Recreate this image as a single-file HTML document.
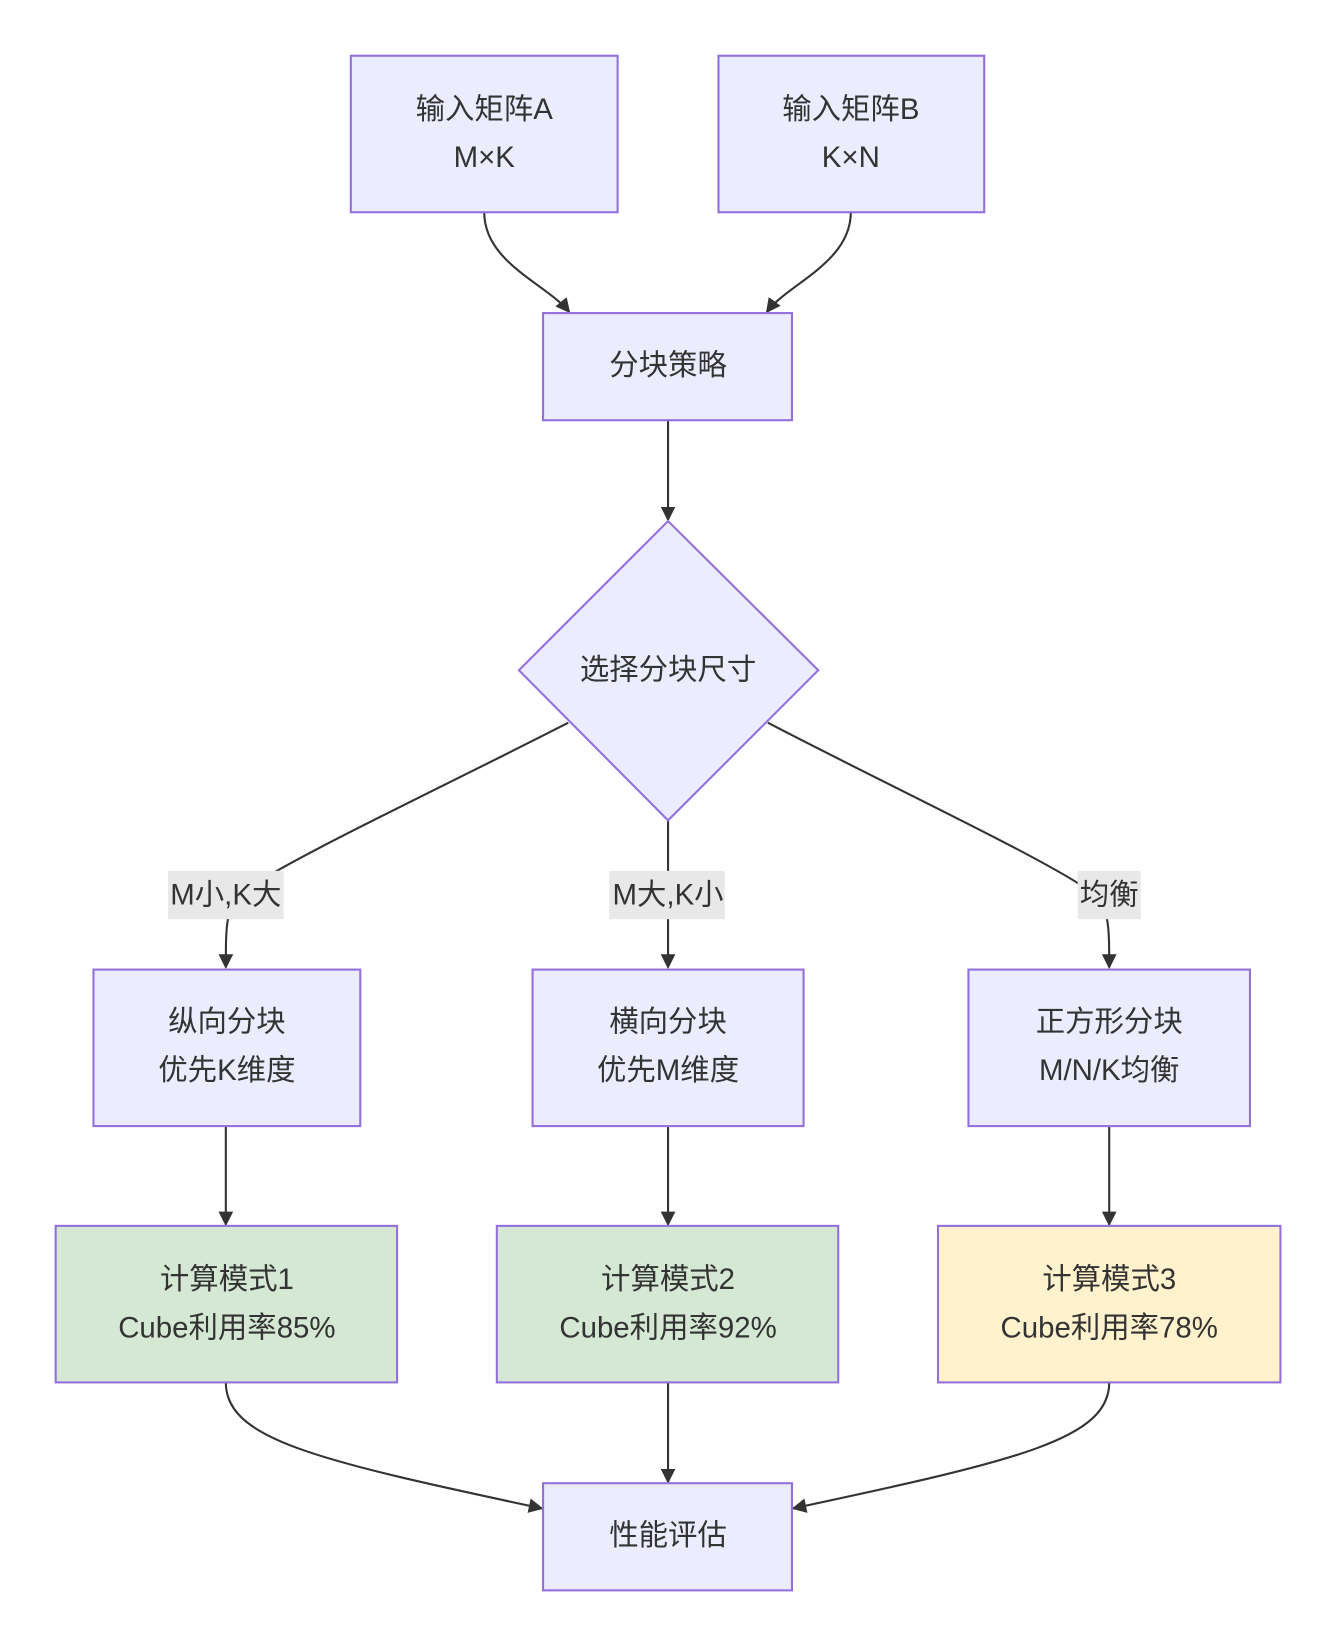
<!DOCTYPE html>
<html><head><meta charset="utf-8"><style>
html,body{margin:0;padding:0;background:#fff}
svg{display:block}
text{font-family:"Liberation Sans","Noto Sans CJK SC",sans-serif;font-size:28px;fill:#333;text-anchor:middle;dominant-baseline:central}
.n{stroke:#9370DB;stroke-width:2}
.e{fill:none;stroke:#333;stroke-width:2}
</style></head><body>
<svg width="1334" height="1644" viewBox="0 0 1270 1565" xmlns="http://www.w3.org/2000/svg">
<defs><marker id="a" viewBox="0 0 10 10" refX="9" refY="5" markerWidth="14" markerHeight="14" markerUnits="userSpaceOnUse" orient="auto"><path d="M0,0L10,5L0,10z" fill="#333"/></marker></defs>
<g class="e" marker-end="url(#a)">
<path d="M461,202 C461,250 520,270 542,297"/>
<path d="M810,202 C810,250 750,270 730,297"/>
<path d="M636,400 L636,495"/>
<path d="M541,688 C420,750 270,820 230,850 C215,865 215,880 215,921"/>
<path d="M636,781 L636,921"/>
<path d="M731,688 C850,750 1000,820 1040,850 C1056,865 1056,880 1056,921"/>
<path d="M215,1072 L215,1166"/>
<path d="M636,1072 L636,1166"/>
<path d="M1056,1072 L1056,1166"/>
<path d="M215,1316 C215,1370 300,1390 516,1436"/>
<path d="M636,1316 L636,1411"/>
<path d="M1056,1316 C1056,1370 970,1390 755,1436"/>
</g>
<rect x="160" y="829" width="110" height="46" fill="#e8e8e8"/>
<rect x="580" y="829" width="110" height="46" fill="#e8e8e8"/>
<rect x="1026" y="829" width="60" height="46" fill="#e8e8e8"/>
<text x="215" y="852">M小,K大</text>
<text x="636" y="852">M大,K小</text>
<text x="1056" y="852">均衡</text>
<g class="n" fill="#ECECFF">
<rect x="334" y="53" width="254" height="149"/>
<rect x="684" y="53" width="253" height="149"/>
<rect x="517" y="298" width="237" height="102"/>
<path d="M636,496 L779,638 L636,781 L494,638Z"/>
<rect x="89" y="923" width="254" height="149"/>
<rect x="507" y="923" width="258" height="149"/>
<rect x="922" y="923" width="268" height="149"/>
<rect x="517" y="1412" width="237" height="102"/>
</g>
<rect class="n" x="53" y="1167" width="325" height="149" fill="#d5e8d4"/>
<rect class="n" x="473" y="1167" width="325" height="149" fill="#d5e8d4"/>
<rect class="n" x="893" y="1167" width="326" height="149" fill="#fff2cc"/>
<text x="461" y="104">输入矩阵A</text><text x="461" y="150">M×K</text>
<text x="810" y="104">输入矩阵B</text><text x="810" y="150">K×N</text>
<text x="636" y="348">分块策略</text>
<text x="636" y="638">选择分块尺寸</text>
<text x="216" y="973">纵向分块</text><text x="216" y="1019">优先K维度</text>
<text x="636" y="973">横向分块</text><text x="636" y="1019">优先M维度</text>
<text x="1056" y="973">正方形分块</text><text x="1056" y="1019">M/N/K均衡</text>
<text x="216" y="1218">计算模式1</text><text x="216" y="1264">Cube利用率85%</text>
<text x="636" y="1218">计算模式2</text><text x="636" y="1264">Cube利用率92%</text>
<text x="1056" y="1218">计算模式3</text><text x="1056" y="1264">Cube利用率78%</text>
<text x="636" y="1462">性能评估</text>
</svg>
</body></html>
